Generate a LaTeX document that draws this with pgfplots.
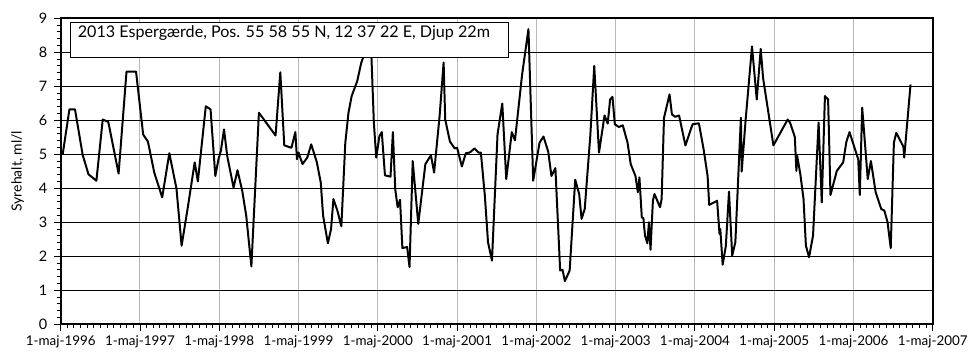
\documentclass[border=0pt]{standalone}
\usepackage{fontspec}
\setmainfont{Lato}
\usepackage{pgfplots}
\pgfplotsset{compat=1.18}
\begin{document}
\begin{tikzpicture}
\begin{axis}[
  width=876bp, height=307.4bp, scale only axis,
  xmin=0, xmax=11, ymin=0, ymax=9,
  xtick={0,...,11},
  xticklabels={1-maj-1996,1-maj-1997,1-maj-1998,1-maj-1999,1-maj-2000,1-maj-2001,1-maj-2002,1-maj-2003,1-maj-2004,1-maj-2005,1-maj-2006,1-maj-2007},
  ytick={0,...,9},
  minor x tick num=11, minor y tick num=4,
  tick align=outside, tick pos=left,
  major tick length=7bp, minor tick length=4bp,
  tick style={black, line width=0.9bp},
  grid=major,
  x grid style={gray!55, line width=1bp},
  y grid style={black, line width=0.8bp},
  axis line style={black, line width=2bp},
  ylabel={Syrehalt, ml/l},
  ylabel shift=8bp,
  label style={font=\fontsize{14bp}{16bp}\selectfont},
  ticklabel style={font=\fontsize{13.5bp}{16bp}\selectfont},
  xticklabel style={yshift=-1bp},
  yticklabel style={xshift=-3bp, font=\fontsize{14.5bp}{17bp}\selectfont},
  /pgf/number format/assume math mode=true,
  clip=false,
]
\addplot[black, line width=2bp, line join=round] coordinates {
(0.025,5.0) (0.11,6.32) (0.18,6.32) (0.277,4.98) (0.35,4.41) (0.45,4.22) (0.53,6.02) (0.60,5.95) (0.73,4.43) (0.83,7.43) (0.95,7.43)
(1.04,5.58) (1.10,5.37) (1.18,4.46) (1.28,3.73) (1.37,5.03) (1.46,3.99) (1.525,2.31) (1.60,3.39) (1.69,4.76) (1.73,4.20) (1.83,6.41) (1.89,6.32) (1.95,4.36) (1.99,4.85)
(2.02,5.10) (2.06,5.73) (2.10,4.95) (2.18,4.02) (2.23,4.53) (2.29,3.92) (2.34,3.19) (2.405,1.70) (2.50,6.22) (2.71,5.55) (2.77,7.41) (2.82,5.26) (2.91,5.19) (2.96,5.65) (2.98,4.85)
(3.00,5.05) (3.05,4.71) (3.11,4.90) (3.16,5.29) (3.23,4.77) (3.28,4.17) (3.31,3.19) (3.37,2.38) (3.41,2.80) (3.44,3.68) (3.49,3.34) (3.54,2.88) (3.59,5.34) (3.63,6.22) (3.67,6.71) (3.74,7.15) (3.79,7.68) (3.83,7.95) (3.88,8.4) (3.92,7.83) (3.95,5.93) (3.98,4.90)
(4.02,5.53) (4.05,5.65) (4.09,4.38) (4.16,4.34) (4.19,5.65) (4.22,3.97) (4.25,3.44) (4.28,3.66) (4.31,2.24) (4.37,2.27) (4.40,1.68) (4.44,4.80) (4.51,2.95) (4.60,4.71) (4.67,4.97) (4.71,4.46) (4.78,6.14) (4.83,7.70) (4.85,6.02) (4.91,5.37) (4.97,5.17)
(5.00,5.19) (5.06,4.64) (5.11,5.03) (5.16,5.05) (5.22,5.17) (5.27,5.05) (5.30,5.05) (5.35,3.78) (5.39,2.41) (5.44,1.87) (5.51,5.58) (5.57,6.49) (5.62,4.27) (5.69,5.65) (5.73,5.41) (5.82,7.34) (5.90,8.68) (5.96,4.22)
(6.04,5.34) (6.09,5.52) (6.15,5.07) (6.19,4.36) (6.24,4.59) (6.30,1.58) (6.33,1.60) (6.36,1.27) (6.42,1.58) (6.49,4.25) (6.54,3.83) (6.57,3.10) (6.61,3.39) (6.68,5.53) (6.73,7.60) (6.79,5.05) (6.86,6.14) (6.90,5.90) (6.93,6.61) (6.96,6.69) (6.99,5.88)
(7.04,5.80) (7.09,5.85) (7.15,5.34) (7.19,4.71) (7.25,4.36) (7.28,3.88) (7.30,4.32) (7.33,3.14) (7.35,3.12) (7.37,2.61) (7.40,2.38) (7.42,3.00) (7.44,2.19) (7.47,3.63) (7.49,3.83) (7.56,3.44) (7.58,3.68) (7.61,6.07) (7.68,6.76) (7.71,6.17) (7.75,6.10) (7.80,6.14) (7.88,5.26) (7.97,5.88)
(8.05,5.91) (8.11,5.14) (8.16,4.36) (8.18,3.51) (8.28,3.63) (8.31,2.66) (8.32,2.80) (8.35,1.75) (8.39,2.30) (8.43,3.90) (8.47,2.02) (8.51,2.41) (8.58,6.07) (8.59,4.49) (8.64,6.02) (8.72,8.17) (8.78,6.61) (8.83,8.10) (8.86,7.24) (8.99,5.26)
(9.17,6.02) (9.20,5.93) (9.26,5.51) (9.28,4.51) (9.29,4.95) (9.33,4.41) (9.37,3.68) (9.40,2.31) (9.44,1.97) (9.49,2.61) (9.56,5.93) (9.60,3.58) (9.64,6.71) (9.68,6.61) (9.71,3.80) (9.79,4.51) (9.87,4.76) (9.91,5.36) (9.95,5.65)
(10.06,4.85) (10.08,3.80) (10.11,6.37) (10.18,4.27) (10.22,4.80) (10.28,3.88) (10.35,3.39) (10.39,3.34) (10.43,3.00) (10.47,2.24) (10.51,5.34) (10.54,5.63) (10.63,5.22) (10.64,4.90) (10.72,7.05)
};
\end{axis}
\draw[fill=white, line width=0.8bp] ([xshift=10bp,yshift=-4.4bp]current axis.north west) rectangle ++(440bp,-34.6bp);
\node[anchor=base west, inner sep=0pt, font=\fontsize{16.2bp}{19bp}\selectfont] at ([xshift=17bp,yshift=-19bp]current axis.north west) {2013 Espergærde, Pos. 55 58 55 N, 12 37 22 E, Djup 22m};
\path ([xshift=-61bp,yshift=-32.3bp]current axis.south west) rectangle ([xshift=34bp,yshift=18.3bp]current axis.north east);
\end{tikzpicture}
\end{document}
